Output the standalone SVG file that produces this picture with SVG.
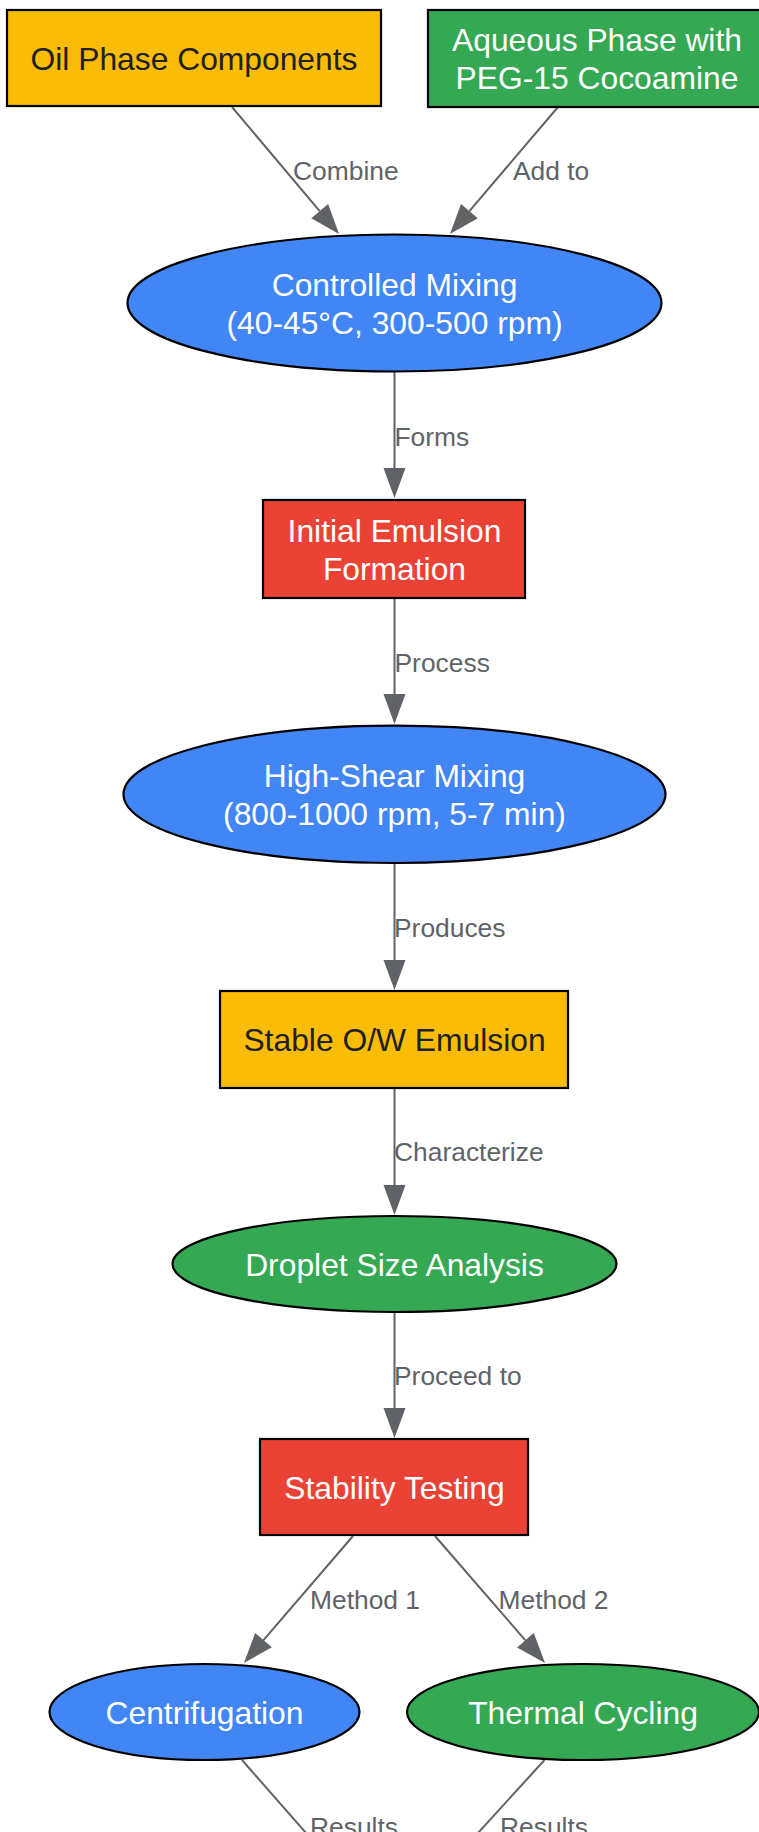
<svg xmlns="http://www.w3.org/2000/svg" width="759" height="1832" viewBox="0 0 759 1832">
<defs>
<marker id="ah" markerUnits="userSpaceOnUse" markerWidth="30" markerHeight="22" refX="0" refY="11" orient="auto" overflow="visible">
<path d="M0,0 L30,11 L0,22 Z" fill="#5F6368"/>
</marker>
<style>
.box{stroke:#000;stroke-width:2.2}
.y{fill:#FBBC05}.g{fill:#34A853}.b{fill:#4285F4}.r{fill:#EA4335}
.t{font-family:"Liberation Sans",Arial,sans-serif;font-size:31.8px;text-anchor:middle;fill:#fff}
.dk{fill:#202124}
.e{stroke:#5F6368;stroke-width:2;fill:none;marker-end:url(#ah)}
.en{stroke:#5F6368;stroke-width:2;fill:none}
.l{font-family:"Liberation Sans",Arial,sans-serif;font-size:26.4px;fill:#5F6368}
</style>
</defs>
<rect width="759" height="1832" fill="#fff"/>
<g id="edges">
<line class="e" x1="232" y1="107" x2="319.7" y2="211.1"/>
<line class="e" x1="558" y1="107" x2="469.4" y2="211.1"/>
<line class="e" x1="394.5" y1="372" x2="394.5" y2="468"/>
<line class="e" x1="394.5" y1="599" x2="394.5" y2="694"/>
<line class="e" x1="394.5" y1="863" x2="394.5" y2="960"/>
<line class="e" x1="394.5" y1="1088" x2="394.5" y2="1185"/>
<line class="e" x1="394.5" y1="1312" x2="394.5" y2="1408"/>
<line class="e" x1="353" y1="1536" x2="263.5" y2="1640.2"/>
<line class="e" x1="435" y1="1536" x2="525.4" y2="1640.3"/>
<line class="en" x1="242" y1="1760" x2="321" y2="1850"/>
<line class="en" x1="544.5" y1="1760" x2="462.5" y2="1850"/>
<text class="l" x="293" y="180">Combine</text>
<text class="l" x="513" y="180">Add to</text>
<text class="l" x="394.5" y="446">Forms</text>
<text class="l" x="394.5" y="672">Process</text>
<text class="l" x="394" y="937">Produces</text>
<text class="l" x="394" y="1161">Characterize</text>
<text class="l" x="394" y="1385">Proceed to</text>
<text class="l" x="310" y="1609">Method 1</text>
<text class="l" x="498.5" y="1609">Method 2</text>
<text class="l" x="310" y="1836">Results</text>
<text class="l" x="500" y="1836">Results</text>
</g>
<g id="oil">
<rect class="box y" x="7" y="10" width="374" height="96"/>
<text class="t dk" x="194" y="70">Oil Phase Components</text>
</g>
<g id="aqueous">
<rect class="box g" x="428" y="10" width="338" height="97"/>
<text class="t" x="597" y="51">Aqueous Phase with</text>
<text class="t" x="597" y="89">PEG-15 Cocoamine</text>
</g>
<g id="controlled">
<ellipse class="box b" cx="394.5" cy="303" rx="267" ry="68.5"/>
<text class="t" x="394.5" y="295.5">Controlled Mixing</text>
<text class="t" x="394.5" y="333.5">(40-45°C, 300-500 rpm)</text>
</g>
<g id="initial">
<rect class="box r" x="263" y="500" width="262" height="98"/>
<text class="t" x="394.5" y="541.5">Initial Emulsion</text>
<text class="t" x="394.5" y="579.5">Formation</text>
</g>
<g id="highshear">
<ellipse class="box b" cx="394.5" cy="794.3" rx="271" ry="68.7"/>
<text class="t" x="394.5" y="786.5">High-Shear Mixing</text>
<text class="t" x="394.5" y="824.5">(800-1000 rpm, 5-7 min)</text>
</g>
<g id="stable">
<rect class="box y" x="220" y="991" width="348" height="97"/>
<text class="t dk" x="394.5" y="1051">Stable O/W Emulsion</text>
</g>
<g id="droplet">
<ellipse class="box g" cx="394.5" cy="1264" rx="222" ry="48"/>
<text class="t" x="394.5" y="1275.5">Droplet Size Analysis</text>
</g>
<g id="stability">
<rect class="box r" x="260" y="1439" width="268" height="96"/>
<text class="t" x="394.5" y="1498.5">Stability Testing</text>
</g>
<g id="centrifugation">
<ellipse class="box b" cx="204.5" cy="1712" rx="155" ry="48"/>
<text class="t" x="204.5" y="1723.5">Centrifugation</text>
</g>
<g id="thermal">
<ellipse class="box g" cx="583" cy="1712" rx="176" ry="48"/>
<text class="t" x="583" y="1723.5">Thermal Cycling</text>
</g>
</svg>
